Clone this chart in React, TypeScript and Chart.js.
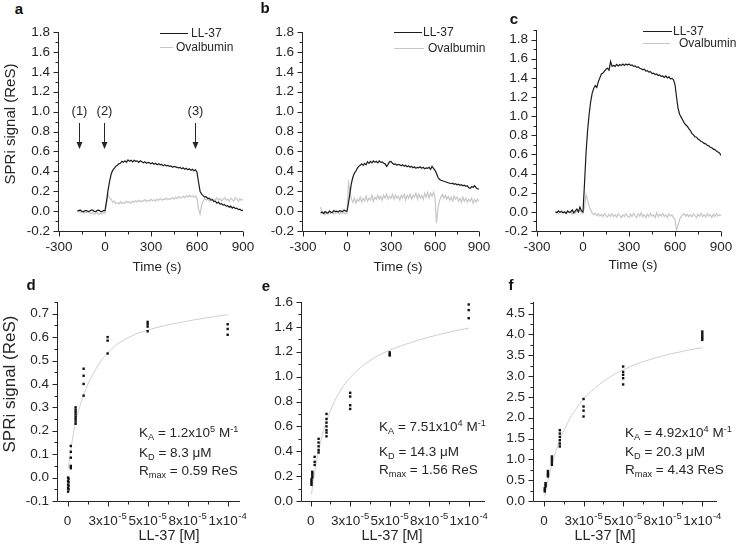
import React, { useEffect, useRef } from "react";
import { Chart, registerables } from "chart.js";

Chart.register(...registerables);

const FONT = '"Liberation Sans", Arial, Helvetica, sans-serif';
const INK = "#262626";
const DARK = "#1c1c1c";
const LIGHT = "#c6c6c6";

// ---------- Sensorgrams (time in s, signal in ReS) ----------
const TIME = [
  -180, -170, -160, -150, -140, -130, -120, -110, -100, -90, -80, -70, -60, -50, -40, -30, -20, -10, 0,
  10, 20, 30, 40, 50, 60, 70, 80, 90, 100,
  110, 120, 130, 140, 150, 160, 170, 180, 190, 200,
  210, 220, 230, 240, 250, 260, 270, 280, 290, 300,
  310, 320, 330, 340, 350, 360, 370, 380, 390, 400,
  410, 420, 430, 440, 450, 460, 470, 480, 490, 500,
  510, 520, 530, 540, 550, 560, 570, 580, 590, 600,
  610, 620, 630, 640, 650, 660, 670, 680, 690, 700,
  710, 720, 730, 740, 750, 760, 770, 780, 790, 800,
  810, 820, 830, 840, 850, 860, 870, 880, 890, 900,
];

const A_LL37 = [
  0.0, 0.008, 0.01, -0.004, -0.005, 0.006, 0.005, -0.006, 0.0, 0.009, 0.01, -0.003, -0.005, 0.007, 0.01, -0.004, -0.005, 0.006, 0.005,
  0.1, 0.21, 0.3, 0.37, 0.41, 0.43, 0.45, 0.46, 0.475, 0.48,
  0.5, 0.49, 0.505, 0.49, 0.515, 0.5, 0.51, 0.495, 0.51, 0.5,
  0.505, 0.49, 0.505, 0.495, 0.485, 0.495, 0.48, 0.49, 0.485, 0.475,
  0.485, 0.47, 0.48, 0.465, 0.475, 0.465, 0.47, 0.455, 0.465, 0.455,
  0.46, 0.45, 0.455, 0.44, 0.45, 0.445, 0.44, 0.435, 0.44, 0.425,
  0.435, 0.42, 0.43, 0.415, 0.425, 0.41, 0.42, 0.405, 0.415, 0.39,
  0.29, 0.2, 0.17, 0.155, 0.14, 0.145, 0.125, 0.13, 0.11, 0.115,
  0.095, 0.1, 0.08, 0.09, 0.07, 0.075, 0.06, 0.065, 0.05, 0.055,
  0.04, 0.05, 0.03, 0.04, 0.025, 0.03, 0.015, 0.02, 0.005, 0.01,
];
const A_OVALBUMIN = [
  -0.01, 0.0, -0.015, -0.005, -0.02, -0.01, -0.015, -0.005, -0.02, -0.025, -0.01, -0.03, -0.02, -0.015, -0.035, -0.02, -0.03, -0.015, -0.02,
  0.08, 0.17, 0.13, 0.12, 0.09, 0.1, 0.075, 0.085, 0.07, 0.095,
  0.075, 0.09, 0.08, 0.1, 0.085, 0.095, 0.08, 0.1, 0.09, 0.105,
  0.09, 0.11, 0.095, 0.105, 0.1, 0.115, 0.095, 0.11, 0.1, 0.12,
  0.105, 0.115, 0.1, 0.12, 0.11, 0.125, 0.11, 0.12, 0.115, 0.13,
  0.115, 0.125, 0.12, 0.135, 0.12, 0.14, 0.125, 0.145, 0.13, 0.14,
  0.15, 0.135, 0.155, 0.14, 0.16, 0.145, 0.155, 0.14, 0.15, 0.13,
  0.02, -0.03, 0.06, 0.1, 0.125, 0.11, 0.13, 0.1, 0.12, 0.125,
  0.105, 0.12, 0.13, 0.11, 0.125, 0.1, 0.12, 0.135, 0.11, 0.12,
  0.1, 0.13, 0.115, 0.1, 0.135, 0.12, 0.1, 0.125, 0.11, 0.12,
];
const B_LL37 = [
  -0.02, -0.01, -0.025, -0.005, -0.015, -0.02, 0.0, -0.01, -0.015, 0.005, -0.005, 0.0, -0.01, 0.005, 0.0, -0.005, 0.01, 0.0, 0.0,
  0.08, 0.18, 0.28, 0.34, 0.38, 0.4, 0.43, 0.45, 0.46, 0.475,
  0.46, 0.48, 0.465, 0.495, 0.48, 0.5, 0.485, 0.505, 0.49, 0.5,
  0.485, 0.505, 0.49, 0.495, 0.48, 0.475, 0.45, 0.47, 0.495, 0.5,
  0.48, 0.47, 0.475, 0.46, 0.47, 0.465, 0.455, 0.465, 0.45, 0.46,
  0.445, 0.455, 0.44, 0.45, 0.435, 0.445, 0.43, 0.44, 0.435, 0.445,
  0.43, 0.44, 0.425, 0.435, 0.43, 0.44, 0.42, 0.45, 0.43, 0.41,
  0.38, 0.34, 0.32, 0.31, 0.305, 0.3, 0.295, 0.29, 0.285, 0.28,
  0.275, 0.28, 0.27, 0.275, 0.265, 0.27, 0.26, 0.265, 0.255, 0.26,
  0.25, 0.255, 0.235, 0.23, 0.245, 0.24, 0.255, 0.235, 0.225, 0.22,
];
const B_OVALBUMIN = [
  0.04, -0.02, -0.01, -0.035, -0.01, -0.03, -0.005, -0.025, -0.01, -0.03, -0.015, -0.02, 0.0, -0.03, -0.01, -0.025, -0.015, -0.03, -0.02,
  0.28, 0.2, 0.12, 0.09, 0.13, 0.08, 0.12, 0.1, 0.14, 0.09,
  0.13, 0.1, 0.15, 0.1, 0.13, 0.11, 0.16, 0.1, 0.14, 0.12,
  0.16, 0.12, 0.15, 0.11, 0.16, 0.13, 0.17, 0.12, 0.15, 0.13,
  0.17, 0.12, 0.16, 0.13, 0.15, 0.11, 0.16, 0.13, 0.17, 0.11,
  0.16, 0.13, 0.17, 0.12, 0.16, 0.14, 0.18, 0.12, 0.17, 0.13,
  0.16, 0.12, 0.18, 0.14, 0.19, 0.13, 0.18, 0.15, 0.19, 0.14,
  -0.12, 0.02, 0.1, 0.14, 0.17, 0.13, 0.16, 0.12, 0.15, 0.11,
  0.14, 0.1, 0.15, 0.12, 0.14, 0.1, 0.13, 0.09, 0.14, 0.1,
  0.13, 0.09, 0.12, 0.1, 0.13, 0.08, 0.12, 0.09, 0.12, 0.1,
];
const C_LL37 = [
  0.0, -0.01, 0.01, -0.005, 0.005, -0.01, 0.0, -0.015, 0.01, -0.005, 0.0, 0.02, -0.01, 0.01, 0.03, 0.0, 0.05, 0.01, 0.0,
  0.3, 0.62, 0.85, 1.02, 1.15, 1.24, 1.29, 1.32, 1.3, 1.36,
  1.4, 1.44, 1.45, 1.47, 1.49, 1.5, 1.48, 1.57, 1.52, 1.53,
  1.52, 1.54, 1.525, 1.54, 1.53, 1.545, 1.53, 1.545, 1.535, 1.545,
  1.53, 1.535, 1.52, 1.525, 1.51, 1.515, 1.5, 1.495, 1.485, 1.49,
  1.47, 1.475, 1.46, 1.465, 1.445, 1.45, 1.435, 1.44, 1.425, 1.43,
  1.415, 1.42, 1.405, 1.42, 1.4, 1.41, 1.39, 1.395, 1.38, 1.33,
  1.2, 1.08, 1.02, 0.99, 0.96, 0.93, 0.91, 0.895, 0.87, 0.85,
  0.82, 0.805, 0.785, 0.78, 0.76, 0.75, 0.735, 0.73, 0.715, 0.71,
  0.695, 0.69, 0.675, 0.67, 0.655, 0.65, 0.635, 0.625, 0.615, 0.59,
];
const C_OVALBUMIN = [
  -0.01, 0.005, -0.02, 0.0, 0.01, -0.015, -0.005, -0.02, 0.0, -0.01, 0.005, -0.025, 0.0, -0.015, 0.01, -0.005, 0.02, -0.01, -0.015,
  0.05, 0.18, 0.12, 0.06, 0.02, -0.01, -0.03, -0.015, -0.04, -0.02,
  -0.045, -0.025, -0.05, -0.02, -0.04, -0.055, -0.025, -0.045, -0.02, -0.05,
  -0.03, -0.055, -0.02, -0.04, -0.06, -0.03, -0.05, -0.02, -0.045, -0.06,
  -0.025, -0.05, -0.015, -0.04, -0.06, -0.02, -0.045, -0.01, -0.05, -0.03,
  -0.06, -0.025, -0.05, -0.015, -0.045, -0.03, -0.06, -0.01, -0.05, -0.025,
  -0.045, -0.015, -0.05, -0.03, -0.06, -0.02, -0.045, -0.03, -0.06, -0.08,
  -0.19, -0.14, -0.08, -0.05, -0.03, -0.02, -0.045, -0.025, -0.05, -0.03,
  -0.055, -0.02, -0.04, -0.06, -0.025, -0.045, -0.015, -0.05, -0.03, -0.055,
  -0.02, -0.045, -0.03, -0.06, -0.025, -0.05, -0.02, -0.045, -0.03, -0.04,
];

const ARROW_TIMES = [-170, -5, 585];
const ARROW_LABELS = ["(1)", "(2)", "(3)"];

const TIME_TICKS = [-300, 0, 300, 600, 900];
const TIME_MINOR = [-150, 150, 450, 750];
const TOP_Y_TICKS = [-0.2, 0, 0.2, 0.4, 0.6, 0.8, 1.0, 1.2, 1.4, 1.6, 1.8];
const TOP_Y_MINOR = [-0.1, 0.1, 0.3, 0.5, 0.7, 0.9, 1.1, 1.3, 1.5, 1.7];
const C_Y_MINOR = [-0.1, 0.1, 0.3, 0.5, 0.7, 0.9, 1.1, 1.3, 1.5, 1.7, 1.9];

// ---------- Binding isotherms (concentration in µM) ----------
const D_CONC_UM = [0.3, 0.6, 2, 5, 10, 25, 50, 100];
const D_SIGNAL = [
  [0.0, -0.015, -0.03, -0.045, -0.06],
  [-0.005, -0.02, -0.035, -0.05],
  [0.135, 0.11, 0.085, 0.05, 0.04],
  [0.23, 0.24, 0.25, 0.26, 0.27, 0.28, 0.29, 0.3],
  [0.465, 0.435, 0.4, 0.35],
  [0.6, 0.585, 0.53],
  [0.665, 0.655, 0.645, 0.625],
  [0.655, 0.635, 0.61],
];
const E_CONC_UM = [0.5, 1, 2.5, 5, 10, 25, 50, 100];
const E_SIGNAL = [
  [0.13, 0.145, 0.16, 0.175],
  [0.19, 0.205, 0.22, 0.235],
  [0.355, 0.315, 0.29],
  [0.5, 0.47, 0.44, 0.41, 0.39],
  [0.7, 0.66, 0.63, 0.6, 0.57, 0.55, 0.52],
  [0.87, 0.84, 0.77, 0.74],
  [1.195, 1.18, 1.17],
  [1.58, 1.535, 1.47],
];
const F_CONC_UM = [0.5, 1, 2.5, 5, 10, 25, 50, 100];
const F_SIGNAL = [
  [0.23, 0.27, 0.31],
  [0.35, 0.39, 0.43],
  [0.59, 0.63, 0.67, 0.72],
  [0.87, 0.92, 0.97, 1.02, 1.07],
  [1.7, 1.62, 1.54, 1.46, 1.38, 1.31],
  [2.45, 2.27, 2.17, 2.03],
  [3.23, 3.1, 3.03, 2.95, 2.8],
  [4.07, 4.02, 3.97, 3.92, 3.87],
];

const FIT_CONC_UM = [0.5, 1, 2.5, 5, 7.5, 10, 15, 20, 25, 30, 40, 50, 60, 70, 80, 90, 100];
const D_FIT = [0.04, 0.07, 0.14, 0.24, 0.3, 0.355, 0.43, 0.49, 0.533, 0.565, 0.605, 0.63, 0.648, 0.662, 0.675, 0.686, 0.696];
const E_FIT = [0.053, 0.102, 0.232, 0.404, 0.537, 0.642, 0.799, 0.91, 0.992, 1.056, 1.149, 1.213, 1.26, 1.3, 1.335, 1.365, 1.39];
const F_FIT = [0.106, 0.208, 0.486, 0.875, 1.195, 1.462, 1.882, 2.198, 2.445, 2.642, 2.939, 3.151, 3.31, 3.434, 3.533, 3.615, 3.682];

const CONC_TICKS = [0, 2.5e-5, 5e-5, 7.5e-5, 1e-4];
const CONC_TICK_BASE = ["0", "3x10", "5x10", "8x10", "1x10"];
const CONC_TICK_EXP = ["", "-5", "-5", "-5", "-4"];
const CONC_MINOR = [1.25e-5, 3.75e-5, 6.25e-5, 8.75e-5];
const D_Y_TICKS = [-0.1, 0, 0.1, 0.2, 0.3, 0.4, 0.5, 0.6, 0.7];
const D_Y_MINOR = [-0.05, 0.05, 0.15, 0.25, 0.35, 0.45, 0.55, 0.65, 0.75];
const E_Y_TICKS = [0, 0.2, 0.4, 0.6, 0.8, 1.0, 1.2, 1.4, 1.6];
const E_Y_MINOR = [0.1, 0.3, 0.5, 0.7, 0.9, 1.1, 1.3, 1.5];
const F_Y_TICKS = [0, 0.5, 1.0, 1.5, 2.0, 2.5, 3.0, 3.5, 4.0, 4.5];
const F_Y_MINOR = [0.25, 0.75, 1.25, 1.75, 2.25, 2.75, 3.25, 3.75, 4.25, 4.75];

// ---------- helpers ----------
const UM = 1e-6;
const trace = (vals: number[]) => TIME.map((t, i) => ({ x: t, y: vals[i] }));
const replicates = (conc: number[], sig: number[][]) =>
  conc.flatMap((c, i) => sig[i].map((v) => ({ x: c * UM, y: v })));
const fitCurve = (vals: number[]) => FIT_CONC_UM.map((c, i) => ({ x: c * UM, y: vals[i] }));

const traceSets = (ll: number[], ova: number[]) => [
  { label: "LL-37", data: trace(ll), borderColor: DARK, borderWidth: 1.2, pointRadius: 0, order: 0 },
  { label: "Ovalbumin", data: trace(ova), borderColor: LIGHT, borderWidth: 1.2, pointRadius: 0, order: 1 },
];
const isoSets = (conc: number[], sig: number[][], fit: number[]) => [
  {
    label: "data",
    data: replicates(conc, sig),
    showLine: false,
    pointStyle: "rect",
    pointRadius: 1.7,
    pointBorderWidth: 0,
    pointBackgroundColor: "#111",
    borderColor: "#111",
    order: 0,
  },
  {
    label: "fit",
    data: fitCurve(fit),
    borderColor: "#cfcfcf",
    borderWidth: 1,
    pointRadius: 0,
    cubicInterpolationMode: "monotone",
    order: 1,
  },
];

const Y_AXIS_W = 46;
const X_AXIS_H = 24;
const PAD = { left: 8, top: 12, right: 24, bottom: 8 };

type Spec = {
  area: { l: number; t: number; r: number; b: number };
  xMin: number; xMax: number; yMin: number; yMax: number;
  xTicks: number[]; xLabels: string[]; xExp?: string[]; xMinor: number[];
  yTicks: number[]; yMinor: number[];
  datasets: any[];
  arrows?: boolean;
};

const decorPlugin = {
  id: "decor",
  afterDraw(chart: any, _a: any, opts: any) {
    const { ctx, chartArea: ca, scales } = chart;
    const xs = scales.x, ys = scales.y;
    const L = Math.round(ca.left) - 0.5;
    const B = Math.round(ca.bottom) + 0.5;
    ctx.save();
    ctx.strokeStyle = INK;
    ctx.lineWidth = 1;
    ctx.beginPath();
    ctx.moveTo(L, Math.round(ca.top));
    ctx.lineTo(L, B);
    ctx.lineTo(Math.round(ca.right), B);
    (opts.yTicks as number[]).forEach((v) => {
      const p = Math.round(ys.getPixelForValue(v)) + 0.5;
      ctx.moveTo(L - 5, p); ctx.lineTo(L, p);
    });
    (opts.yMinor as number[]).forEach((v) => {
      const p = Math.round(ys.getPixelForValue(v)) + 0.5;
      ctx.moveTo(L - 3, p); ctx.lineTo(L, p);
    });
    (opts.xTicks as number[]).forEach((v) => {
      const p = Math.round(xs.getPixelForValue(v)) + 0.5;
      ctx.moveTo(p, B); ctx.lineTo(p, B + 5);
    });
    (opts.xMinor as number[]).forEach((v) => {
      const p = Math.round(xs.getPixelForValue(v)) + 0.5;
      ctx.moveTo(p, B); ctx.lineTo(p, B + 3);
    });
    ctx.stroke();
    ctx.fillStyle = INK;
    if (opts.xExp) {
      // tick labels with superscript exponents
      ctx.textAlign = "left";
      ctx.textBaseline = "alphabetic";
      (opts.xTicks as number[]).forEach((v, i) => {
        const base = opts.xLabels[i] as string;
        const exp = opts.xExp[i] as string;
        ctx.font = `13.5px ${FONT}`;
        const wb = ctx.measureText(base).width;
        ctx.font = `9.5px ${FONT}`;
        const we = exp ? ctx.measureText(exp).width + 0.5 : 0;
        const x0 = xs.getPixelForValue(v) - (wb + we) / 2;
        const baseY = B + 23;
        ctx.font = `13.5px ${FONT}`;
        ctx.fillText(base, x0, baseY);
        if (exp) {
          ctx.font = `9.5px ${FONT}`;
          ctx.fillText(exp, x0 + wb + 0.5, baseY - 5.5);
        }
      });
    }
    if (opts.arrows) {
      ctx.font = `13px ${FONT}`;
      ctx.textAlign = "center";
      ctx.textBaseline = "middle";
      ARROW_TIMES.forEach((t, i) => {
        const px = Math.round(xs.getPixelForValue(t)) + 0.5;
        const top = ys.getPixelForValue(0.885);
        const tip = ys.getPixelForValue(0.625);
        ctx.beginPath();
        ctx.moveTo(px, top);
        ctx.lineTo(px, tip - 6);
        ctx.stroke();
        ctx.beginPath();
        ctx.moveTo(px - 3, tip - 7);
        ctx.lineTo(px + 3, tip - 7);
        ctx.lineTo(px, tip);
        ctx.closePath();
        ctx.fill();
        ctx.fillText(ARROW_LABELS[i], px, ys.getPixelForValue(1.0));
      });
    }
    ctx.restore();
  },
};

function Panel({ s }: { s: Spec }) {
  const ref = useRef<HTMLCanvasElement>(null);
  const w = s.area.r - s.area.l + Y_AXIS_W + PAD.left + PAD.right;
  const h = s.area.b - s.area.t + X_AXIS_H + PAD.top + PAD.bottom;
  const left = s.area.l - Y_AXIS_W - PAD.left;
  const top = s.area.t - PAD.top;
  useEffect(() => {
    const yLabels = s.yTicks.map((v) => v.toFixed(1));
    const chart = new Chart(ref.current as HTMLCanvasElement, {
      type: "line",
      data: { datasets: s.datasets },
      options: {
        animation: false,
        responsive: false,
        devicePixelRatio: 1,
        events: [],
        layout: { padding: PAD },
        plugins: {
          legend: { display: false },
          tooltip: { enabled: false },
          decor: {
            xTicks: s.xTicks, xLabels: s.xLabels, xExp: s.xExp, xMinor: s.xMinor,
            yTicks: s.yTicks, yMinor: s.yMinor, arrows: !!s.arrows,
          },
        } as any,
        scales: {
          x: {
            type: "linear",
            min: s.xMin,
            max: s.xMax,
            grid: { display: false, drawTicks: false },
            border: { display: false },
            ticks: {
              display: !s.xExp,
              autoSkip: false,
              maxRotation: 0,
              padding: 8,
              color: INK,
              font: { family: FONT, size: 13.5 },
              callback: (_v: any, i: number) => s.xLabels[i],
            },
            afterBuildTicks: (sc: any) => { sc.ticks = s.xTicks.map((v) => ({ value: v })); },
            afterFit: (sc: any) => { sc.height = X_AXIS_H; sc.paddingLeft = 0; sc.paddingRight = 0; },
          },
          y: {
            type: "linear",
            min: s.yMin,
            max: s.yMax,
            grid: { display: false, drawTicks: false },
            border: { display: false },
            ticks: {
              autoSkip: false,
              padding: 9,
              color: INK,
              font: { family: FONT, size: 13.5 },
              callback: (_v: any, i: number) => yLabels[i],
            },
            afterBuildTicks: (sc: any) => { sc.ticks = s.yTicks.map((v) => ({ value: v })); },
            afterFit: (sc: any) => { sc.width = Y_AXIS_W; sc.paddingTop = 0; sc.paddingBottom = 0; },
          },
        } as any,
      },
      plugins: [decorPlugin as any],
    } as any);
    return () => chart.destroy();
  }, []);
  return (
    <canvas
      ref={ref}
      width={w}
      height={h}
      style={{ position: "absolute", left, top, width: w, height: h }}
    />
  );
}

const TOP_X = { xMin: -300, xMax: 900, xTicks: TIME_TICKS, xLabels: TIME_TICKS.map(String), xMinor: TIME_MINOR };
const BOT_X = { xTicks: CONC_TICKS, xLabels: CONC_TICK_BASE, xExp: CONC_TICK_EXP, xMinor: CONC_MINOR };

const SPECS: Spec[] = [
  { area: { l: 59, t: 32, r: 243, b: 231 }, ...TOP_X, yMin: -0.2, yMax: 1.8, yTicks: TOP_Y_TICKS, yMinor: TOP_Y_MINOR, datasets: traceSets(A_LL37, A_OVALBUMIN), arrows: true },
  { area: { l: 303, t: 32, r: 479, b: 231 }, ...TOP_X, yMin: -0.2, yMax: 1.8, yTicks: TOP_Y_TICKS, yMinor: TOP_Y_MINOR, datasets: traceSets(B_LL37, B_OVALBUMIN) },
  { area: { l: 537, t: 30, r: 721, b: 231 }, ...TOP_X, yMin: -0.2, yMax: 1.9, yTicks: TOP_Y_TICKS, yMinor: C_Y_MINOR, datasets: traceSets(C_LL37, C_OVALBUMIN) },
  { area: { l: 58, t: 302, r: 240, b: 501 }, ...BOT_X, xMin: -6e-6, xMax: 1.077e-4, yMin: -0.1, yMax: 0.75, yTicks: D_Y_TICKS, yMinor: D_Y_MINOR, datasets: isoSets(D_CONC_UM, D_SIGNAL, D_FIT) },
  { area: { l: 302, t: 302, r: 485, b: 501 }, ...BOT_X, xMin: -5.5e-6, xMax: 1.103e-4, yMin: 0, yMax: 1.6, yTicks: E_Y_TICKS, yMinor: E_Y_MINOR, datasets: isoSets(E_CONC_UM, E_SIGNAL, E_FIT) },
  { area: { l: 534, t: 302, r: 717, b: 501 }, ...BOT_X, xMin: -6.3e-6, xMax: 1.093e-4, yMin: 0, yMax: 4.78, yTicks: F_Y_TICKS, yMinor: F_Y_MINOR, datasets: isoSets(F_CONC_UM, F_SIGNAL, F_FIT) },
];

const abs = (x: number, y: number, extra: React.CSSProperties = {}): React.CSSProperties => ({
  position: "absolute", left: x, top: y, whiteSpace: "nowrap", fontFamily: FONT, color: INK, lineHeight: 1, ...extra,
});

const Letter = ({ x, y, t }: { x: number; y: number; t: string }) => (
  <div style={abs(x, y, { fontWeight: "bold", fontSize: 15, transform: "translate(-50%,-50%)", color: "#111" })}>{t}</div>
);

const Legend = ({ x, y1, y2, l1, l2, t1, t2 }: { x: number; y1: number; y2: number; l1: number; l2: number; t1: number; t2: number }) => (
  <>
    <div style={abs(x, y1, { width: l1, borderTop: `1.3px solid ${DARK}` })} />
    <div style={abs(t1, y1, { fontSize: 12, transform: "translateY(-50%)" })}>LL-37</div>
    <div style={abs(x, y2, { width: l2, borderTop: `1.3px solid ${LIGHT}` })} />
    <div style={abs(t2, y2, { fontSize: 12, transform: "translateY(-50%)" })}>Ovalbumin</div>
  </>
);

const sub: React.CSSProperties = { fontSize: "68%", position: "relative", top: "0.35em" };
const sup: React.CSSProperties = { fontSize: "68%", position: "relative", top: "-0.5em" };

const Params = ({ x, ys, ka, kaExp, kd, rmax }: { x: number; ys: number[]; ka: string; kaExp: string; kd: string; rmax: string }) => (
  <>
    <div style={abs(x, ys[0], { fontSize: 13.5, transform: "translateY(-50%)" })}>
      K<span style={sub}>A</span> = {ka}x10<span style={sup}>{kaExp}</span> M<span style={sup}>-1</span>
    </div>
    <div style={abs(x, ys[1], { fontSize: 13.5, transform: "translateY(-50%)" })}>
      K<span style={sub}>D</span> = {kd} μM
    </div>
    <div style={abs(x, ys[2], { fontSize: 13.5, transform: "translateY(-50%)" })}>
      R<span style={sub}>max</span> = {rmax} ReS
    </div>
  </>
);

const YTitle = ({ x, y, size }: { x: number; y: number; size: number }) => (
  <div style={abs(x, y, { fontSize: size, transform: "translate(-50%,-50%) rotate(-90deg)" })}>SPRi signal (ReS)</div>
);
const XTitle = ({ x, y, t, size }: { x: number; y: number; t: string; size: number }) => (
  <div style={abs(x, y, { fontSize: size, transform: "translate(-50%,-50%)" })}>{t}</div>
);

export default function App() {
  return (
    <div style={{ position: "fixed", left: 0, top: 0, width: 736, height: 551, background: "#fff", overflow: "hidden" }}>
      {SPECS.map((s, i) => (
        <Panel key={i} s={s} />
      ))}
      <Letter x={19} y={8} t="a" />
      <Letter x={265} y={7} t="b" />
      <Letter x={514} y={18} t="c" />
      <Letter x={31} y={284} t="d" />
      <Letter x={266} y={285} t="e" />
      <Letter x={511} y={284} t="f" />

      <YTitle x={9} y={124} size={15} />
      <YTitle x={9} y={384} size={17} />
      <XTitle x={157} y={267} t="Time (s)" size={13.5} />
      <XTitle x={398} y={267} t="Time (s)" size={13.5} />
      <XTitle x={633} y={265} t="Time (s)" size={13.5} />
      <XTitle x={169} y={535} t="LL-37 [M]" size={14.5} />
      <XTitle x={392} y={535} t="LL-37 [M]" size={14.5} />
      <XTitle x={605} y={535} t="LL-37 [M]" size={14.5} />

      <Legend x={160} y1={33} y2={47} l1={28} l2={13} t1={191} t2={176} />
      <Legend x={394} y1={32} y2={48} l1={28} l2={30} t1={423} t2={428} />
      <Legend x={643} y1={31} y2={43} l1={29} l2={27} t1={673} t2={679} />

      <Params x={139} ys={[433, 453, 471]} ka="1.2" kaExp="5" kd="8.3" rmax="0.59" />
      <Params x={379} ys={[427, 452, 470]} ka="7.51" kaExp="4" kd="14.3" rmax="1.56" />
      <Params x={625} ys={[433, 452, 470]} ka="4.92" kaExp="4" kd="20.3" rmax="4.43" />
    </div>
  );
}
